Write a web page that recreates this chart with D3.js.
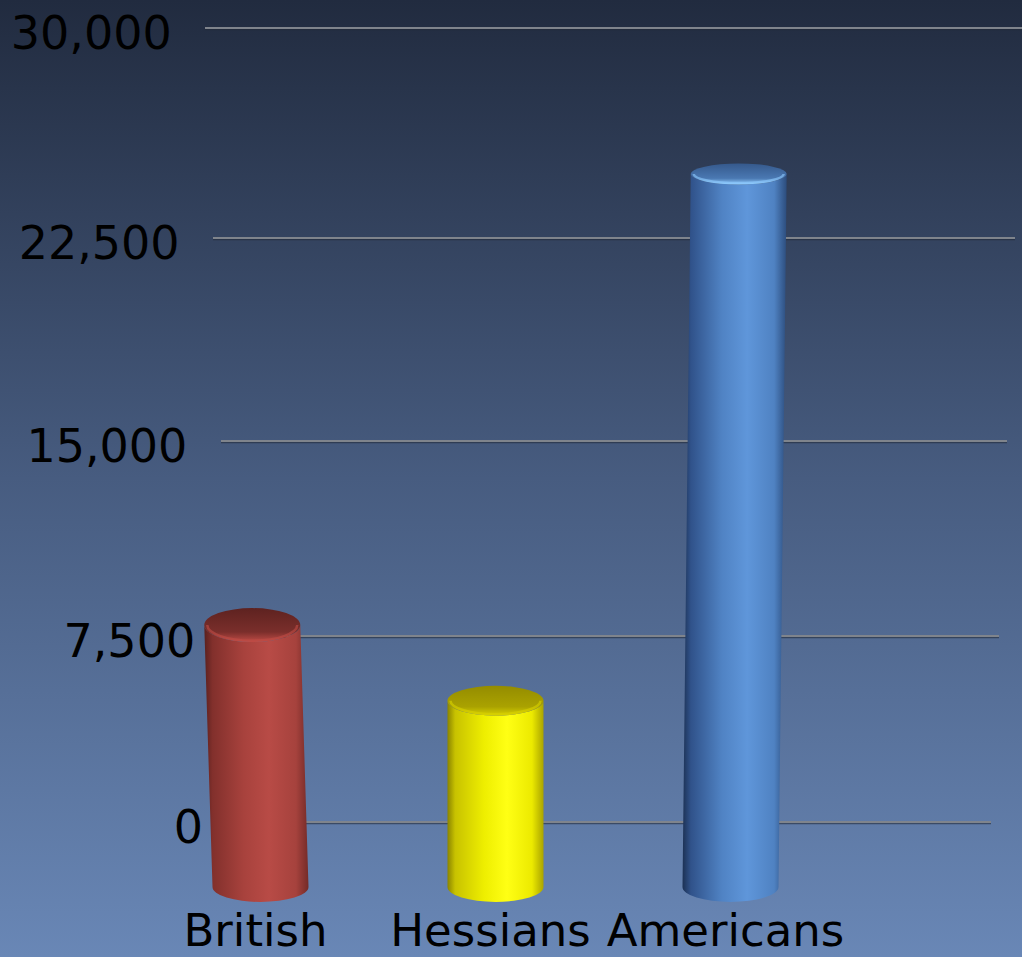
<!DOCTYPE html>
<html>
<head>
<meta charset="utf-8">
<script src="https://cdn.jsdelivr.net/npm/d3@7"></script>
<style>
  html, body { margin: 0; padding: 0; }
  body { width: 1022px; height: 957px; overflow: hidden; }
</style>
</head>
<body>
<div id="chart"></div>
<script>
// troop counts
const categories = ['British', 'Hessians', 'Americans'];
const troops = [9000, 6400, 24500];
const tickValues = [0, 7500, 15000, 22500, 30000];
const tickLabels = ['0', '7,500', '15,000', '22,500', '30,000'];

const palettes = [
  { id: 'red', lid: 17, body: ['#5a201e', '#82302c', '#a8423d', '#b84b46', '#a6423d', '#742b28'], top: ['#5e2220', '#7a2e2b', '#c04c46'] },
  { id: 'yel', lid: 15, body: ['#8a8400', '#c8c200', '#eeee00', '#ffff14', '#ecea00', '#aaa400'], top: ['#948c00', '#aaa200', '#d8d200'] },
  { id: 'blu', lid: 10.5, body: ['#1c3154', '#30528a', '#5083c4', '#5f96da', '#4f82c2', '#2c4c7c'], top: ['#35598c', '#4a78b2', '#90ccff'] }
];

const W = 1022, H = 957;
const svg = d3.select('#chart').append('svg')
  .attr('width', W).attr('height', H)
  .style('font-family', '"DejaVu Sans", sans-serif');

const defs = svg.append('defs');
const bg = defs.append('linearGradient').attr('id', 'bg')
  .attr('x1', 0).attr('y1', 0).attr('x2', 0).attr('y2', 1);
bg.append('stop').attr('offset', '0%').attr('stop-color', '#212b3f');
bg.append('stop').attr('offset', '50%').attr('stop-color', '#475c80');
bg.append('stop').attr('offset', '100%').attr('stop-color', '#6987b6');
svg.append('rect').attr('width', W).attr('height', H).attr('fill', 'url(#bg)');

// back wall grid (slight perspective, so spacing grows going up)
const yGrid = d3.scaleLinear().domain(tickValues).range([822, 636, 441, 238, 28]);
const step = v => v / 7500;

const grid = svg.append('g');
tickValues.forEach((v, i) => {
  const y = yGrid(v);
  const x0 = 237 - step(v) * 8;
  const x1 = 991 + step(v) * 8 + (v === 30000 ? 20 : 0);
  grid.append('line').attr('x1', x0).attr('x2', x1).attr('y1', y + 1.5).attr('y2', y + 1.5)
    .attr('stroke', '#222a38').attr('stroke-opacity', 0.6).attr('stroke-width', 1.5);
  grid.append('line').attr('x1', x0).attr('x2', x1).attr('y1', y).attr('y2', y)
    .attr('stroke', '#7f848c').attr('stroke-width', 2);
  grid.append('text')
    .attr('x', 203 - step(v) * 7.8).attr('y', y + 21)
    .attr('text-anchor', 'end')
    .attr('font-size', 46).attr('fill', '#000')
    .text(tickLabels[i]);
});

// front plane scale for the cylinders
const x = d3.scalePoint().domain(categories).range([143, 848]).padding(0.5);
const yBar = d3.scaleLinear().domain([0, 30000]).range([887, 14]);
const barW = 96, botRy = 15;

palettes.forEach(p => {
  const g = defs.append('linearGradient').attr('id', 'body-' + p.id)
    .attr('x1', 0).attr('y1', 0).attr('x2', 1).attr('y2', 0);
  [0, 8, 38, 62, 88, 100].forEach((o, k) =>
    g.append('stop').attr('offset', o + '%').attr('stop-color', p.body[k]));
  const t = defs.append('linearGradient').attr('id', 'top-' + p.id)
    .attr('x1', 0).attr('y1', 0).attr('x2', 0).attr('y2', 1);
  [0, 70, 100].forEach((o, k) =>
    t.append('stop').attr('offset', o + '%').attr('stop-color', p.top[k]));
});

const bars = svg.append('g');
categories.forEach((c, i) => {
  const xb = x(c);
  const xt = xb + (xb - 496) * 0.035;
  const yb = yBar(0);
  const yt = yBar(troops[i]);
  const p = palettes[i];
  const ry = p.lid;
  const r = barW / 2;
  const body = `M${xt - r},${yt} L${xb - r},${yb} A${r},${botRy} 0 0 0 ${xb + r},${yb} L${xt + r},${yt} A${r},${ry} 0 0 1 ${xt - r},${yt} Z`;
  bars.append('path').attr('d', body).attr('fill', `url(#body-${p.id})`);
  bars.append('ellipse').attr('cx', xt).attr('cy', yt).attr('rx', r).attr('ry', ry)
    .attr('fill', `url(#top-${p.id})`);
  // bright rim on the near edge of the lid
  bars.append('path')
    .attr('d', `M${xt - r + 3},${yt} A${r - 3},${ry - 1.5} 0 0 0 ${xt + r - 3},${yt}`)
    .attr('fill', 'none').attr('stroke', p.top[2]).attr('stroke-opacity', 0.6).attr('stroke-width', 2.5);
});

svg.append('g').selectAll('text').data(categories).enter().append('text')
  .attr('x', d => x(d) - 5).attr('y', 946)
  .attr('text-anchor', 'middle')
  .attr('font-size', 45).attr('fill', '#000')
  .text(d => d);
</script>
</body>
</html>
